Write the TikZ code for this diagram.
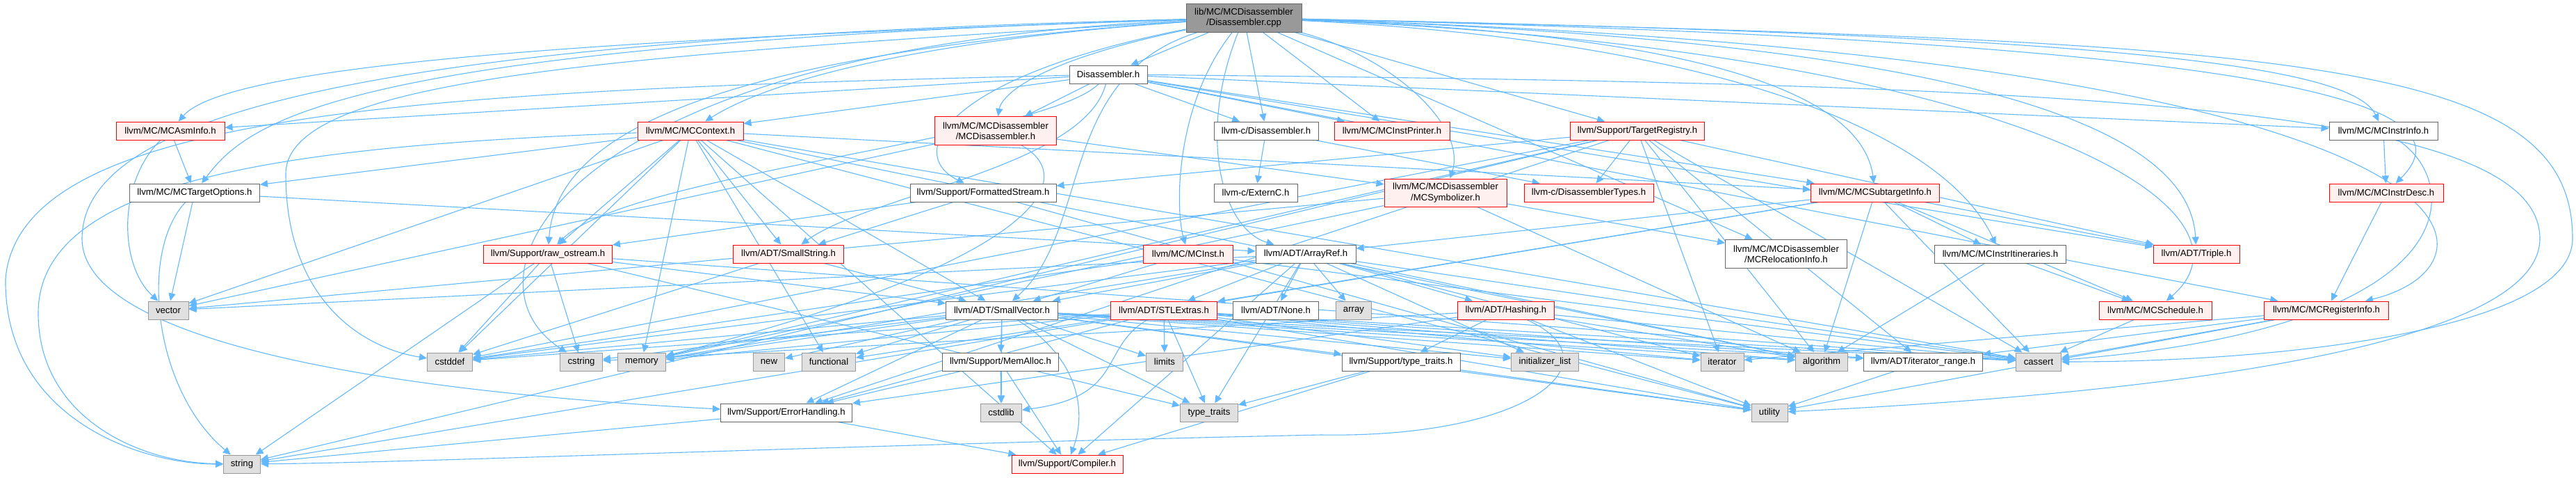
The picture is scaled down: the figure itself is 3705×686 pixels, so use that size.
\documentclass[tikz,border=0pt]{standalone}
\usepackage{fontspec}
\setmainfont{Liberation Sans}
\usetikzlibrary{arrows.meta}
\definecolor{edgec}{HTML}{63B8FF}
\definecolor{redb}{HTML}{FF0000}
\definecolor{redf}{HTML}{FFF0F0}
\definecolor{grayb}{HTML}{666666}
\definecolor{stdb}{HTML}{999999}
\definecolor{stdf}{HTML}{E0E0E0}
\definecolor{rootf}{HTML}{999999}
\pgfdeclarelayer{bg}
\pgfsetlayers{bg,main}
\begin{document}
\begin{tikzpicture}[x=0.5pt,y=-0.5pt,
  box/.style={rectangle,inner sep=0pt,minimum height=13pt,line width=0.5pt,align=center,
    font=\fontsize{6.6pt}{7.6pt}\selectfont},
  rootn/.style={box,draw=grayb,fill=rootf},
  whn/.style={box,draw=grayb,fill=white},
  redn/.style={box,draw=redb,fill=redf},
  stdn/.style={box,draw=stdb,fill=stdf},
  e/.style={draw=edgec,line width=0.55pt,-{Triangle[length=5.5pt,width=5pt]}}]
\useasboundingbox (0,0) rectangle (3705,686);
% nodes
\node[rootn, minimum width=83pt, minimum height=20.5pt] (R) at (1789,25.5) {lib/MC/MCDisassembler\\/Disassembler.cpp};
\node[whn, minimum width=56pt] (D) at (1594,107) {Disassembler.h};
\node[redn, minimum width=78pt] (asminfo) at (245,188) {llvm/MC/MCAsmInfo.h};
\node[redn, minimum width=76pt] (context) at (993,188) {llvm/MC/MCContext.h};
\node[redn, minimum width=87.5pt, minimum height=20.5pt] (mcdis) at (1432,188) {llvm/MC/MCDisassembler\\/MCDisassembler.h};
\node[whn, minimum width=75pt] (cdis) at (1821,188) {llvm-c/Disassembler.h};
\node[redn, minimum width=83pt] (instprinter) at (2002,188) {llvm/MC/MCInstPrinter.h};
\node[redn, minimum width=96.5pt] (targetreg) at (2355,188) {llvm/Support/TargetRegistry.h};
\node[whn, minimum width=78pt] (instrinfo) at (3428,188) {llvm/MC/MCInstrInfo.h};
\node[whn, minimum width=93.5pt] (targetopt) at (280,277) {llvm/MC/MCTargetOptions.h};
\node[whn, minimum width=105pt] (fstream) at (1414,277) {llvm/Support/FormattedStream.h};
\node[whn, minimum width=60pt] (externc) at (1806,277) {llvm-c/ExternC.h};
\node[redn, minimum width=88pt, minimum height=20pt] (symbolizer) at (2079,277) {llvm/MC/MCDisassembler\\/MCSymbolizer.h};
\node[redn, minimum width=93pt] (distypes) at (2285,277) {llvm-c/DisassemblerTypes.h};
\node[redn, minimum width=92.5pt] (subtarget) at (2697,277) {llvm/MC/MCSubtargetInfo.h};
\node[redn, minimum width=82pt] (instrdesc) at (3432,277) {llvm/MC/MCInstrDesc.h};
\node[redn, minimum width=92.5pt] (rawos) at (788,365) {llvm/Support/raw\_ostream.h};
\node[redn, minimum width=79.5pt] (smallstr) at (1134,365) {llvm/ADT/SmallString.h};
\node[redn, minimum width=64.5pt] (mcinst) at (1709,365) {llvm/MC/MCInst.h};
\node[whn, minimum width=72pt] (arrayref) at (1878,365) {llvm/ADT/ArrayRef.h};
\node[whn, minimum width=87.5pt, minimum height=20.5pt] (relinfo) at (2569,365) {llvm/MC/MCDisassembler\\/MCRelocationInfo.h};
\node[whn, minimum width=94.5pt] (itin) at (2877,365) {llvm/MC/MCInstrItineraries.h};
\node[redn, minimum width=62pt] (triple) at (3159,365) {llvm/ADT/Triple.h};
\node[stdn, minimum width=29pt] (vector) at (242,446) {vector};
\node[whn, minimum width=80.5pt] (smallvec) at (1441,446) {llvm/ADT/SmallVector.h};
\node[redn, minimum width=76.5pt] (stlextras) at (1674,446) {llvm/ADT/STLExtras.h};
\node[whn, minimum width=61.5pt] (none) at (1835,446) {llvm/ADT/None.h};
\node[stdn, minimum width=25.5pt] (array) at (1947,446) {array};
\node[redn, minimum width=69.5pt] (hashing) at (2166,446) {llvm/ADT/Hashing.h};
\node[redn, minimum width=81pt] (schedule) at (3100,446) {llvm/MC/MCSchedule.h};
\node[redn, minimum width=89.5pt] (reginfo) at (3346,446) {llvm/MC/MCRegisterInfo.h};
\node[stdn, minimum width=32.5pt] (cstddef) at (647,520) {cstddef};
\node[stdn, minimum width=30.5pt] (cstring) at (836,520) {cstring};
\node[stdn, minimum width=34.5pt] (memory) at (923,520) {memory};
\node[stdn, minimum width=22.5pt] (new) at (1106,520) {new};
\node[stdn, minimum width=38.5pt] (functional) at (1192,520) {functional};
\node[whn, minimum width=83.5pt] (memalloc) at (1439,520) {llvm/Support/MemAlloc.h};
\node[stdn, minimum width=26.5pt] (limits) at (1675,520) {limits};
\node[whn, minimum width=85pt] (suptt) at (2015,520) {llvm/Support/type\_traits.h};
\node[stdn, minimum width=48.5pt] (initlist) at (2222,520) {initializer\_list};
\node[stdn, minimum width=31pt] (iterator) at (2477,520) {iterator};
\node[stdn, minimum width=37.5pt] (algorithm) at (2620,520) {algorithm};
\node[whn, minimum width=85.5pt] (itrange) at (2766,520) {llvm/ADT/iterator\_range.h};
\node[stdn, minimum width=32.5pt] (cassert) at (2932,520) {cassert};
\node[whn, minimum width=94.5pt] (errh) at (1131,593) {llvm/Support/ErrorHandling.h};
\node[stdn, minimum width=29.5pt] (cstdlib) at (1440,593) {cstdlib};
\node[stdn, minimum width=41.5pt] (typetraits) at (1739,593) {type\_traits};
\node[stdn, minimum width=26pt] (utility) at (2545,593) {utility};
\node[stdn, minimum width=26.5pt] (string) at (348,667) {string};
\node[redn, minimum width=80pt] (compiler) at (1535,667) {llvm/Support/Compiler.h};
\begin{pgfonlayer}{bg}
% root
\draw[e] (R) -- (D);
\draw[e] (R) -- (cdis);
\draw[e] (R) -- (instprinter);
\draw[e] (R) -- (targetreg);
\draw[e] (R) -- (relinfo);
\draw[e] (R) .. controls (1720,200) and (1760,330) .. (arrayref);
\draw[e] (R) .. controls (1520,110) and (1570,330) .. (smallvec);
\draw[e] (R) .. controls (1690,150) and (1690,300) .. (mcinst);
\draw[e] (R) .. controls (900,55) and (330,90) .. (asminfo);
\draw[e] (R) .. controls (1300,60) and (1100,120) .. (context);
\draw[e] (R) .. controls (1480,90) and (1440,140) .. (mcdis);
\draw[e] (R) .. controls (1360,110) and (1300,220) .. (fstream);
\draw[e] (R) .. controls (500,65) and (360,170) .. (targetopt);
\draw[e] (R) .. controls (600,55) and (118,150) .. (118,343) .. controls (118,480) and (500,560) .. (errh);
\draw[e] (R) .. controls (900,80) and (411,110) .. (411,250) .. controls (411,430) and (520,500) .. (cstddef);
\draw[e] (R) .. controls (1000,80) and (800,200) .. (rawos);
\draw[e] (R) .. controls (800,70) and (650,400) .. (cstring);
\draw[e] (R) .. controls (2000,80) and (2110,180) .. (symbolizer);
\draw[e] (R) .. controls (2500,50) and (2680,150) .. (subtarget);
\draw[e] (R) .. controls (2500,60) and (2800,200) .. (itin);
\draw[e] (R) .. controls (2900,60) and (3150,200) .. (triple);
\draw[e] (R) .. controls (3000,50) and (3380,90) .. (instrinfo);
\draw[e] (R) .. controls (3300,60) and (3560,150) .. (instrdesc);
\draw[e] (R) .. controls (3620,80) and (3620,380) .. (reginfo);
\draw[e] (R) .. controls (2900,70) and (3270,300) .. (schedule);
\draw[e] (R) .. controls (3300,60) and (3700,80) .. (3700,343) .. controls (3700,470) and (3300,520) .. (cassert);
% Disassembler.h
\draw[e] (D) -- (cdis);
\draw[e] (D) -- (mcdis);
\draw[e] (D) -- (asminfo);
\draw[e] (D) -- (context);
\draw[e] (D) -- (instprinter);
\draw[e] (D) -- (instrinfo);
\draw[e] (D) -- (subtarget);
\draw[e] (D) -- (triple);
\draw[e] (D) -- (reginfo);
\draw[e] (D) .. controls (1560,240) and (1250,280) .. (smallstr);
\draw[e] (D) .. controls (1500,200) and (900,250) .. (rawos);
\draw[e] (D) .. controls (600,130) and (30,160) .. (8,400) .. controls (5,600) and (200,667) .. (string);
\draw[e] (D) .. controls (3000,120) and (3653,150) .. (3653,343) .. controls (3653,500) and (3100,566) .. (utility);
% MCAsmInfo, MCTargetOptions
\draw[e] (asminfo) -- (targetopt);
\draw[e] (asminfo) .. controls (170,260) and (170,380) .. (vector);
\draw[e] (targetopt) -- (vector);
\draw[e] (targetopt) .. controls (200,360) and (220,560) .. (string);
\draw[e] (targetopt) -- (arrayref);
% MCContext
\draw[e] (context) -- (smallstr);
\draw[e] (context) -- (smallvec);
\draw[e] (context) -- (subtarget);
\draw[e] (context) -- (targetopt);
\draw[e] (context) -- (compiler);
\draw[e] (context) -- (rawos);
\draw[e] (context) -- (algorithm);
\draw[e] (context) -- (cassert);
\draw[e] (context) -- (cstddef);
\draw[e] (context) -- (functional);
\draw[e] (context) -- (memory);
\draw[e] (context) .. controls (400,210) and (55,260) .. (55,450) .. controls (55,600) and (200,665) .. (string);
\draw[e] (context) -- (utility);
\draw[e] (context) -- (vector);
% MCDisassembler.h
\draw[e] (mcdis) -- (symbolizer);
\draw[e] (mcdis) .. controls (1560,260) and (1480,380) .. (memory);
\draw[e] (mcdis) -- (vector);
% llvm-c/Disassembler.h
\draw[e] (cdis) -- (distypes);
\draw[e] (cdis) -- (externc);
% TargetRegistry
\draw[e] (targetreg) -- (distypes);
\draw[e] (targetreg) -- (triple);
\draw[e] (targetreg) -- (itrange);
\draw[e] (targetreg) -- (errh);
\draw[e] (targetreg) -- (fstream);
\draw[e] (targetreg) -- (algorithm);
\draw[e] (targetreg) -- (cassert);
\draw[e] (targetreg) -- (cstddef);
\draw[e] (targetreg) -- (iterator);
\draw[e] (targetreg) -- (memory);
\draw[e] (targetreg) -- (string);
% MCInstrInfo
\draw[e] (instrinfo) -- (instrdesc);
\draw[e] (instrinfo) .. controls (3540,260) and (3560,470) .. (cassert);
% FormattedStream
\draw[e] (fstream) -- (smallstr);
\draw[e] (fstream) -- (rawos);
\draw[e] (fstream) -- (utility);
% MCSymbolizer
\draw[e] (symbolizer) -- (relinfo);
\draw[e] (symbolizer) -- (algorithm);
\draw[e] (symbolizer) -- (memory);
\draw[e] (symbolizer) -- (vector);
% MCSubtargetInfo
\draw[e] (subtarget) -- (arrayref);
\draw[e] (subtarget) -- (stlextras);
\draw[e] (subtarget) -- (triple);
\draw[e] (subtarget) -- (itin);
\draw[e] (subtarget) -- (schedule);
\draw[e] (subtarget) -- (algorithm);
\draw[e] (subtarget) -- (cassert);
\draw[e] (subtarget) -- (string);
% MCInstrDesc
\draw[e] (instrdesc) -- (reginfo);
% raw_ostream
\draw[e] (rawos) -- (smallvec);
\draw[e] (rawos) -- (cassert);
\draw[e] (rawos) -- (cstddef);
\draw[e] (rawos) -- (cstring);
\draw[e] (rawos) -- (string);
\draw[e] (rawos) -- (typetraits);
% SmallString, MCInst
\draw[e] (smallstr) -- (smallvec);
\draw[e] (smallstr) -- (cstddef);
\draw[e] (mcinst) -- (smallvec);
\draw[e] (mcinst) -- (cassert);
\draw[e] (mcinst) -- (cstddef);
% ArrayRef
\draw[e] (arrayref) -- (hashing);
\draw[e] (arrayref) -- (none);
\draw[e] (arrayref) -- (smallvec);
\draw[e] (arrayref) -- (stlextras);
\draw[e] (arrayref) -- (compiler);
\draw[e] (arrayref) -- (algorithm);
\draw[e] (arrayref) -- (array);
\draw[e] (arrayref) -- (cassert);
\draw[e] (arrayref) -- (cstddef);
\draw[e] (arrayref) -- (initlist);
\draw[e] (arrayref) -- (iterator);
\draw[e] (arrayref) -- (memory);
\draw[e] (arrayref) -- (typetraits);
\draw[e] (arrayref) -- (vector);
% MCInstrItineraries
\draw[e] (itin) -- (schedule);
\draw[e] (itin) -- (algorithm);
% SmallVector
\draw[e] (smallvec) -- (itrange);
\draw[e] (smallvec) .. controls (1560,520) and (1560,600) .. (compiler);
\draw[e] (smallvec) -- (errh);
\draw[e] (smallvec) -- (memalloc);
\draw[e] (smallvec) -- (suptt);
\draw[e] (smallvec) -- (algorithm);
\draw[e] (smallvec) -- (cassert);
\draw[e] (smallvec) -- (cstddef);
\draw[e] (smallvec) -- (cstdlib);
\draw[e] (smallvec) -- (cstring);
\draw[e] (smallvec) -- (functional);
\draw[e] (smallvec) -- (initlist);
\draw[e] (smallvec) -- (iterator);
\draw[e] (smallvec) -- (limits);
\draw[e] (smallvec) -- (memory);
\draw[e] (smallvec) -- (new);
\draw[e] (smallvec) -- (typetraits);
\draw[e] (smallvec) -- (utility);
% STLExtras
\draw[e] (stlextras) -- (itrange);
\draw[e] (stlextras) -- (errh);
\draw[e] (stlextras) -- (algorithm);
\draw[e] (stlextras) -- (cassert);
\draw[e] (stlextras) -- (cstddef);
\draw[e] (stlextras) .. controls (1580,500) and (1620,570) .. (cstdlib);
\draw[e] (stlextras) -- (functional);
\draw[e] (stlextras) -- (initlist);
\draw[e] (stlextras) -- (iterator);
\draw[e] (stlextras) -- (limits);
\draw[e] (stlextras) -- (memory);
\draw[e] (stlextras) -- (typetraits);
\draw[e] (stlextras) -- (utility);
% Hashing
\draw[e] (hashing) -- (errh);
\draw[e] (hashing) -- (suptt);
\draw[e] (hashing) -- (algorithm);
\draw[e] (hashing) -- (cassert);
\draw[e] (hashing) -- (cstring);
\draw[e] (hashing) .. controls (2330,520) and (2200,630) .. (1900,625) .. controls (1200,640) and (600,665) .. (string);
\draw[e] (hashing) -- (utility);
% small ones
\draw[e] (schedule) -- (cassert);
\draw[e] (reginfo) -- (itrange);
\draw[e] (reginfo) -- (cassert);
\draw[e] (reginfo) -- (iterator);
\draw[e] (reginfo) -- (utility);
\draw[e] (memalloc) -- (compiler);
\draw[e] (memalloc) -- (errh);
\draw[e] (memalloc) -- (cstdlib);
\draw[e] (suptt) -- (compiler);
\draw[e] (suptt) -- (typetraits);
\draw[e] (suptt) -- (utility);
\draw[e] (itrange) -- (utility);
\draw[e] (errh) -- (compiler);
\draw[e] (errh) -- (string);
\end{pgfonlayer}
\end{tikzpicture}
\end{document}
